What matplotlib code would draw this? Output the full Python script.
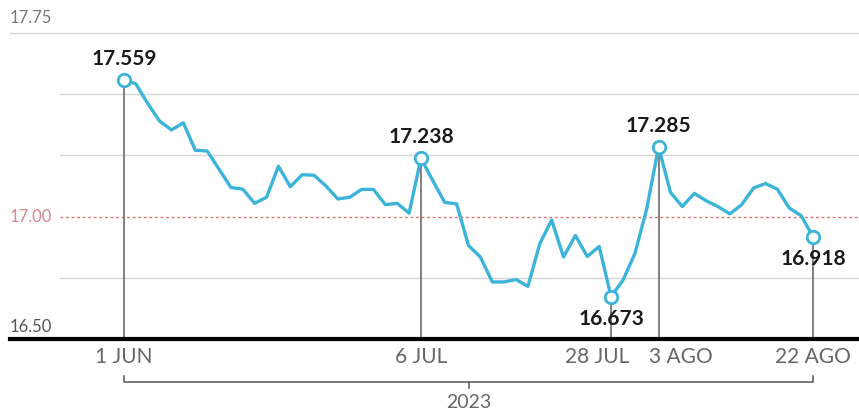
import numpy as np
import pandas as pd
import matplotlib
matplotlib.use('Agg')
import matplotlib.pyplot as plt
import matplotlib.transforms as mtrans

plt.rcParams['font.family'] = ['Lato', 'DejaVu Sans']

# peso-dollar rate, trading days 1 Jun - 22 Aug 2023
dates = pd.bdate_range('2023-06-01', '2023-08-22')
rate = [17.559, 17.542, 17.462, 17.390, 17.354, 17.383, 17.271, 17.268, 17.194, 17.119,
        17.112, 17.054, 17.079, 17.206, 17.122, 17.171, 17.169, 17.125, 17.072, 17.079,
        17.111, 17.111, 17.049, 17.054, 17.014, 17.238, 17.146, 17.058, 17.052, 16.882,
        16.835, 16.733, 16.733, 16.743, 16.715, 16.889, 16.986, 16.835, 16.923, 16.837,
        16.878, 16.673, 16.740, 16.848, 17.031, 17.285, 17.099, 17.041, 17.095, 17.065,
        17.041, 17.011, 17.049, 17.117, 17.135, 17.112, 17.035, 17.004, 16.918]

key_dates = ['2023-06-01', '2023-07-06', '2023-07-28', '2023-08-03', '2023-08-22']
key_ticks = ['1 JUN', '6 JUL', '28 JUL', '3 AGO', '22 AGO']
key_above = [True, True, False, True, False]
tick_shift = [0, 0, -10, 16, 0]   # points, keeps 28 JUL / 3 AGO apart
year_label = '2023'

grid_vals = [17.75, 17.50, 17.25, 16.75]
ref_val = 17.00
base_val = 16.50

LINE = '#3cb4d9'
W, H = 859, 416

fig = plt.figure(figsize=(W / 100, H / 100), dpi=100)
ax = fig.add_axes([124 / W, (H - 339) / H, (813 - 124) / W, (339 - 33) / H])
ax.set_xlim(0, len(rate) - 1)
ax.set_ylim(base_val, 17.75)
ax.axis('off')

x = np.arange(len(rate))
fy = ('figure fraction', 'data')
blend = mtrans.blended_transform_factory(fig.transFigure, ax.transData)

# grid lines
for g in grid_vals:
    x0 = 10 / W if g == 17.75 else 60 / W
    ax.plot([x0, 1], [g, g], color='#d6d6d6', lw=1, transform=blend, clip_on=False, zorder=0)
ax.plot([60 / W, 1], [ref_val, ref_val], color='#e0707a', lw=1, ls=(0, (2, 2)),
        transform=blend, clip_on=False, zorder=1)
ax.plot([10 / W, 1], [base_val, base_val], color='black', lw=3, transform=blend,
        clip_on=False, zorder=4)

# y labels
ax.annotate('17.75', xy=(10 / W, 17.75), xycoords=fy, xytext=(0, 11), textcoords='offset points',
            ha='left', va='center', fontsize=12, color='#777777')
ax.annotate('17.00', xy=(10 / W, ref_val), xycoords=fy, ha='left', va='center',
            fontsize=12, color='#d9858d')
ax.annotate('16.50', xy=(10 / W, base_val), xycoords=fy, xytext=(0, 9), textcoords='offset points',
            ha='left', va='center', fontsize=12, color='#555555')

ax.plot(x, rate, color=LINE, lw=2.4, zorder=3, solid_joinstyle='round')

for d, lab, above, sh in zip(key_dates, key_ticks, key_above, tick_shift):
    i = dates.get_loc(pd.Timestamp(d))
    v = rate[i]
    ax.plot([i, i], [base_val, v], color='#777777', lw=1.3, zorder=2, clip_on=False)
    ax.plot(i, v, 'o', ms=9, mfc='white', mec=LINE, mew=2, zorder=5, clip_on=False)
    if above:
        ax.annotate(f'{v:.3f}', (i, v), xytext=(0, 8), textcoords='offset points',
                    ha='center', va='bottom', fontsize=15, weight='bold', color='#1a1a1a')
    else:
        ax.annotate(f'{v:.3f}', (i, v), xytext=(0, -9), textcoords='offset points',
                    ha='center', va='top', fontsize=15, weight='bold', color='#1a1a1a', zorder=6)
    ax.annotate(lab, (i, base_val), xytext=(sh, -13), textcoords='offset points',
                ha='center', va='center', fontsize=15, color='#666666',
                annotation_clip=False)

# year bracket
i0 = dates.get_loc(pd.Timestamp(key_dates[0]))
i1 = dates.get_loc(pd.Timestamp(key_dates[-1]))
ymid = base_val - 43 / 246
ax.plot([i0, i0, i1, i1], [ymid + 6 / 246, ymid, ymid, ymid + 6 / 246], color='#555555',
        lw=1.1, clip_on=False)
im = (i0 + i1) / 2
ax.plot([im, im], [ymid, ymid - 6 / 246], color='#555555', lw=1.1, clip_on=False)
ax.text(im, ymid - 21 / 246, year_label, ha='center', va='center', fontsize=14,
        color='#666666', clip_on=False)

fig.savefig('out.png', dpi=100, facecolor='white')
